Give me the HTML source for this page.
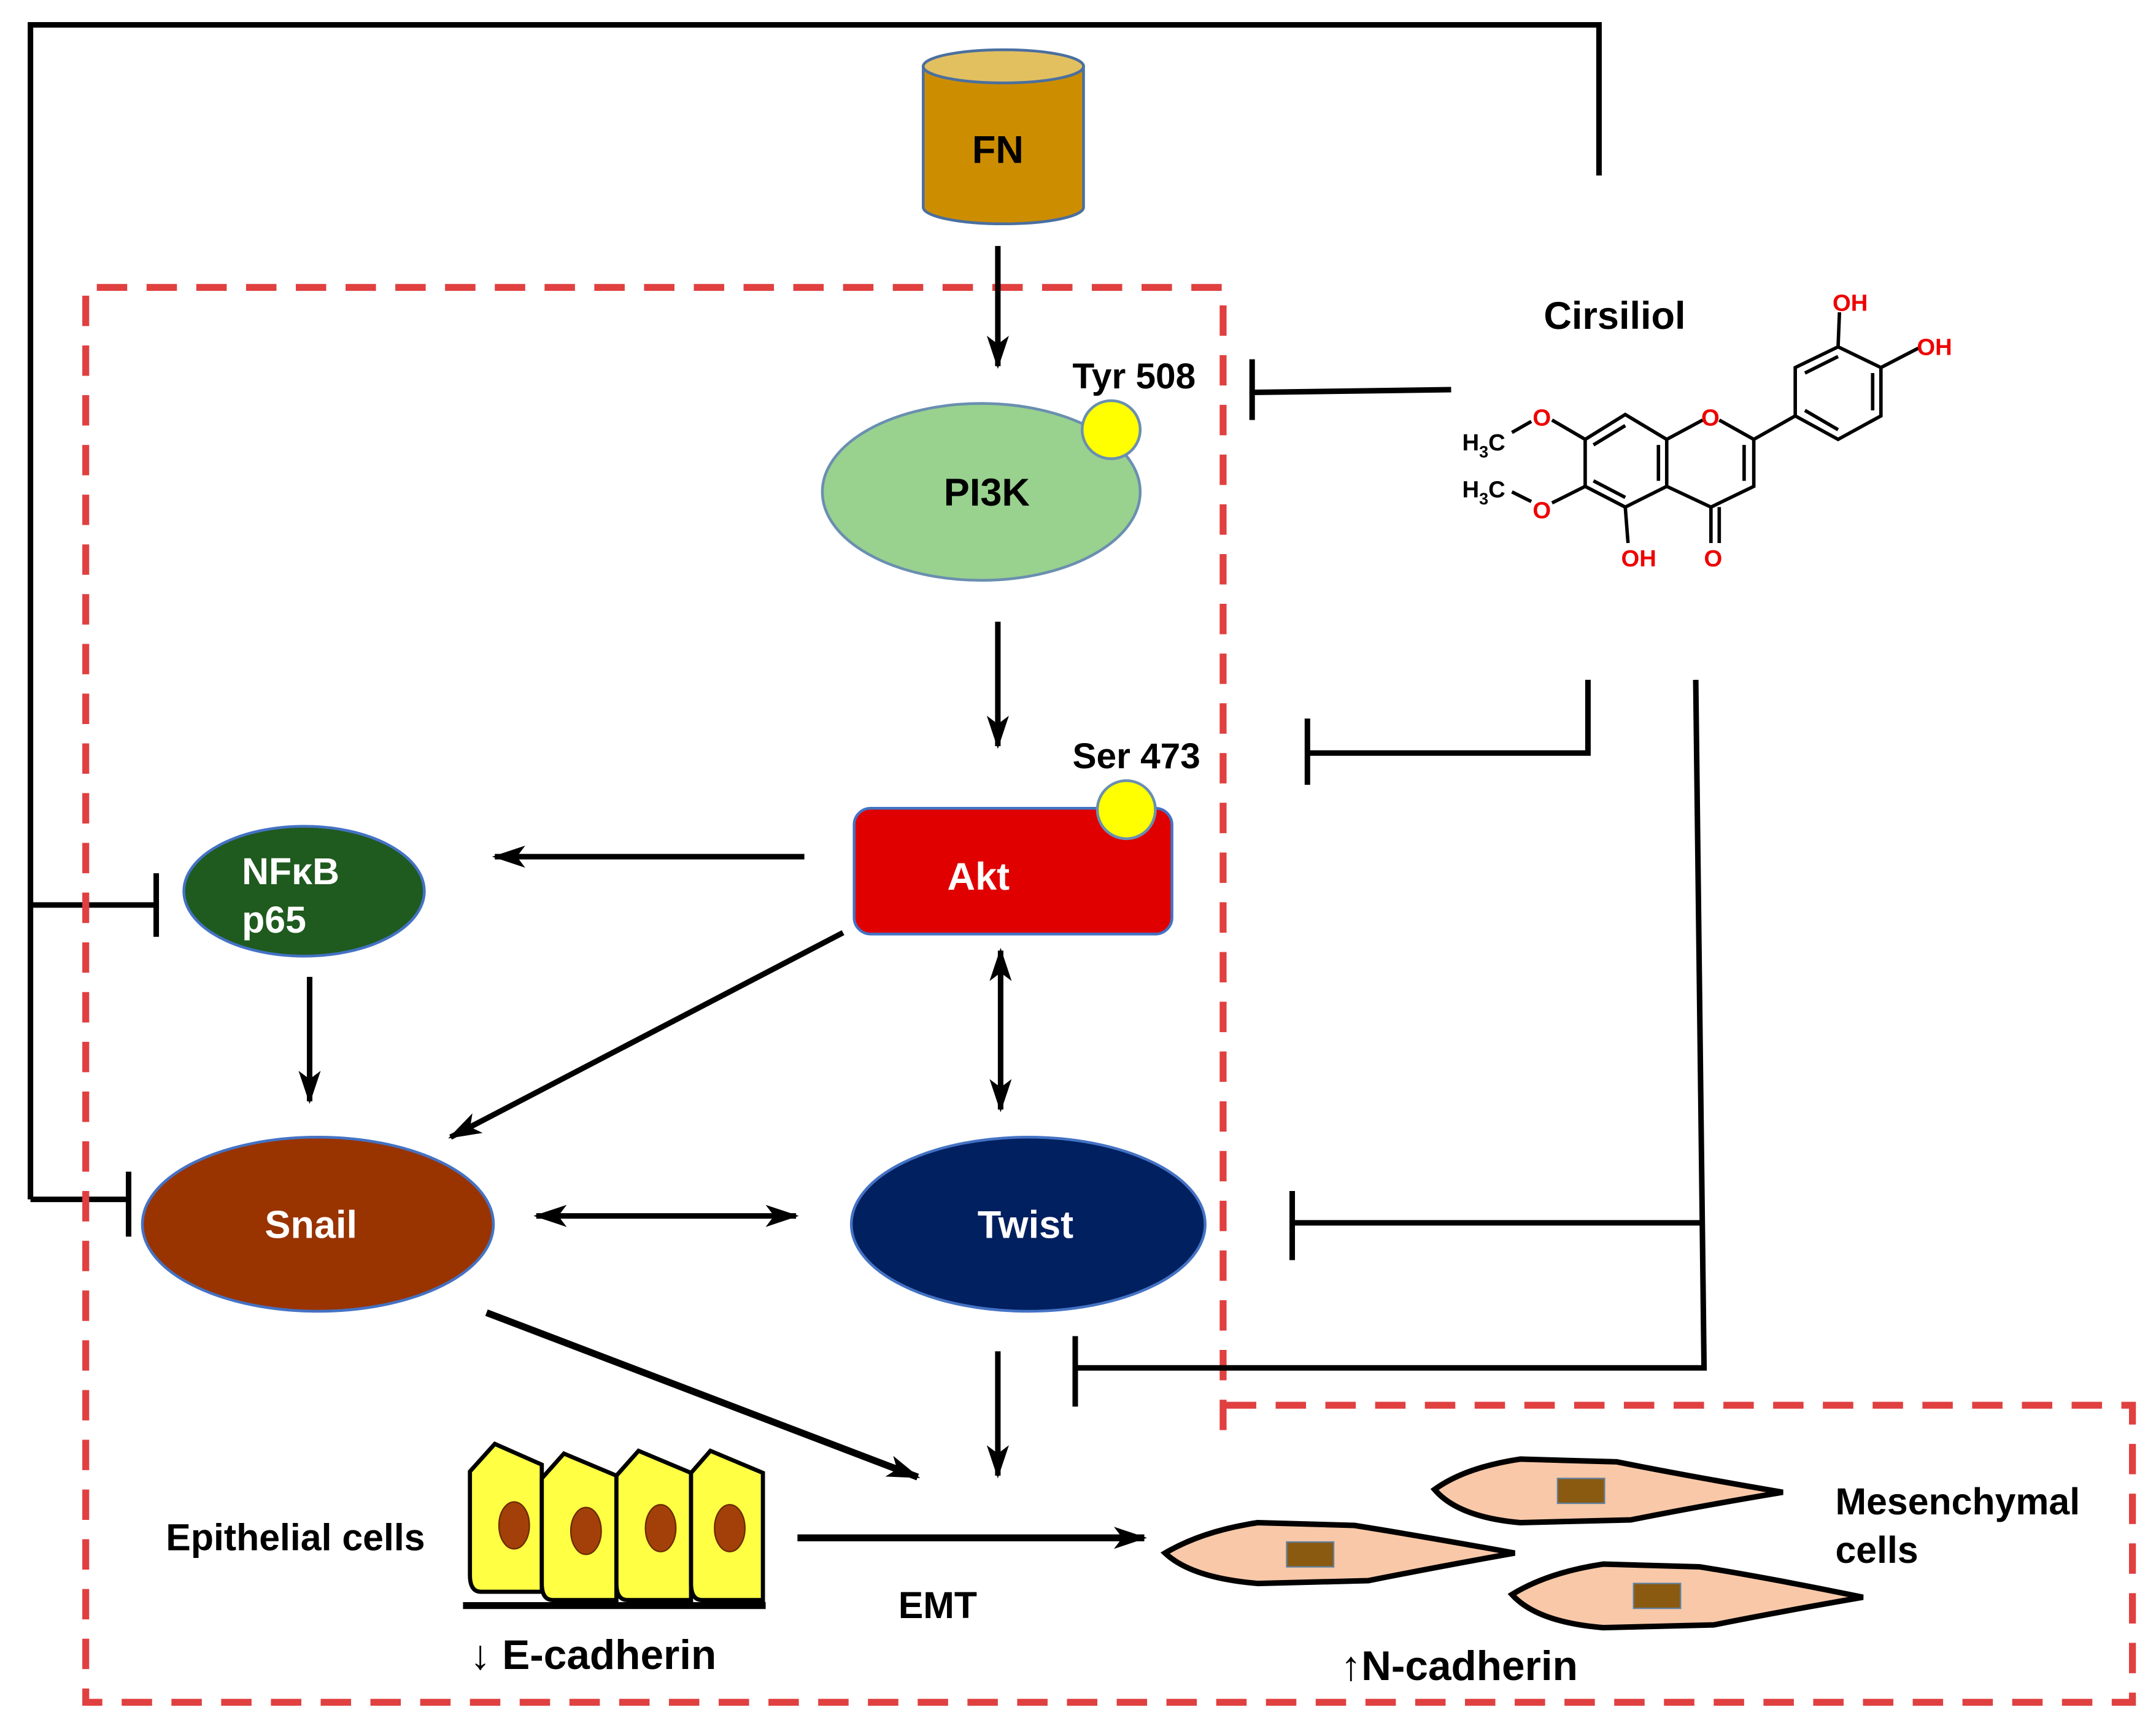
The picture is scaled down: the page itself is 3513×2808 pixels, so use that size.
<!DOCTYPE html>
<html><head><meta charset="utf-8"><style>
html,body{margin:0;padding:0;background:#fff;}
svg{display:block;}
text{font-family:"Liberation Sans",Arial,sans-serif;font-weight:bold;}
</style></head><body>
<svg width="3513" height="2808" viewBox="0 0 1560 1247" xmlns="http://www.w3.org/2000/svg">
<defs>
<marker id="ah" markerWidth="8" markerHeight="8" refX="7" refY="4" orient="auto" markerUnits="userSpaceOnUse" viewBox="0 0 8 8">
<path d="M0,0 L8,4 L0,8 Z" fill="#000"/></marker>
<marker id="ahs" markerWidth="8" markerHeight="8" refX="1" refY="4" orient="auto" markerUnits="userSpaceOnUse" viewBox="0 0 8 8">
<path d="M8,0 L0,4 L8,8 Z" fill="#000"/></marker>
<marker id="big" markerWidth="24" markerHeight="16" refX="22" refY="8" orient="auto" markerUnits="userSpaceOnUse" viewBox="0 0 24 16">
<path d="M0,0 L24,8 L0,16 L6,8 Z" fill="#000"/></marker>
<marker id="bigs" markerWidth="24" markerHeight="16" refX="2" refY="8" orient="auto" markerUnits="userSpaceOnUse" viewBox="0 0 24 16">
<path d="M24,0 L0,8 L24,16 L18,8 Z" fill="#000"/></marker>
</defs>

<!-- outer feedback line -->
<polyline points="22,868 22,18 1157,18 1157,127" fill="none" stroke="#000" stroke-width="4"/>
<line x1="22" y1="655" x2="113" y2="655" stroke="#000" stroke-width="4"/>
<line x1="113" y1="632" x2="113" y2="678" stroke="#000" stroke-width="4"/>
<line x1="22" y1="868" x2="93" y2="868" stroke="#000" stroke-width="4"/>
<line x1="93" y1="848" x2="93" y2="895" stroke="#000" stroke-width="4"/>

<!-- dashed boxes -->
<g stroke="#e04040" stroke-width="5" fill="none" stroke-dasharray="22,14">
<polyline points="885,1035 885,208 62,208 62,1232 1543,1232 1543,1017 885,1017"/>
</g>

<!-- FN cylinder -->
<path d="M668,48 L668,150 A58,12 0 0 0 784,150 L784,48 Z" fill="#cc8e00" stroke="#4a6fa0" stroke-width="2"/>
<ellipse cx="726" cy="48" rx="58" ry="12" fill="#e2c060" stroke="#4a6fa0" stroke-width="2"/>
<text x="722" y="118" font-size="28" text-anchor="middle">FN</text>

<line x1="722" y1="178" x2="722" y2="265" stroke="#000" stroke-width="4" marker-end="url(#big)"/>

<!-- PI3K -->
<ellipse cx="710" cy="356" rx="115" ry="64" fill="#99d18f" stroke="#6a8fb0" stroke-width="2"/>
<circle cx="804" cy="311" r="21" fill="#ffff00" stroke="#6a8fb0" stroke-width="2"/>
<text x="714" y="366" font-size="28" text-anchor="middle">PI3K</text>
<text x="776" y="281" font-size="26">Tyr 508</text>
<line x1="1050" y1="282" x2="906" y2="284" stroke="#000" stroke-width="4"/>
<line x1="906" y1="260" x2="906" y2="304" stroke="#000" stroke-width="4"/>

<line x1="722" y1="450" x2="722" y2="540" stroke="#000" stroke-width="4" marker-end="url(#big)"/>

<!-- Akt -->
<text x="776" y="556" font-size="26">Ser 473</text>
<rect x="618" y="585" width="230" height="91" rx="12" fill="#e00000" stroke="#4472c4" stroke-width="2"/>
<circle cx="815" cy="586" r="21" fill="#ffff00" stroke="#6a8fb0" stroke-width="2"/>
<text x="708" y="644" font-size="28" fill="#fff" text-anchor="middle">Akt</text>
<polyline points="1149,492 1149,545 946,545" fill="none" stroke="#000" stroke-width="4"/>
<line x1="946" y1="520" x2="946" y2="568" stroke="#000" stroke-width="4"/>

<polyline points="1227,492 1233,990 778,990" fill="none" stroke="#000" stroke-width="4"/>
<line x1="1230" y1="885" x2="935" y2="885" stroke="#000" stroke-width="4"/>
<line x1="935" y1="862" x2="935" y2="912" stroke="#000" stroke-width="4"/>
<line x1="778" y1="967" x2="778" y2="1018" stroke="#000" stroke-width="4"/>

<!-- NFkB -->
<ellipse cx="220" cy="645" rx="87" ry="47" fill="#1f5a1f" stroke="#4472c4" stroke-width="2"/>
<text x="175" y="640" font-size="27" fill="#fff">NFκB</text>
<text x="175" y="675" font-size="27" fill="#fff">p65</text>
<line x1="582" y1="620" x2="358" y2="620" stroke="#000" stroke-width="4" marker-end="url(#big)"/>
<line x1="224" y1="707" x2="224" y2="797" stroke="#000" stroke-width="4" marker-end="url(#big)"/>
<line x1="610" y1="675" x2="326" y2="823" stroke="#000" stroke-width="4" marker-end="url(#big)"/>
<line x1="724" y1="688" x2="724" y2="803" stroke="#000" stroke-width="4" marker-start="url(#bigs)" marker-end="url(#big)"/>

<!-- Snail / Twist -->
<ellipse cx="230" cy="886" rx="127" ry="63" fill="#993300" stroke="#4472c4" stroke-width="2"/>
<text x="225" y="896" font-size="28" fill="#fff" text-anchor="middle">Snail</text>
<ellipse cx="744" cy="886" rx="128" ry="63" fill="#002060" stroke="#4472c4" stroke-width="2"/>
<text x="742" y="896" font-size="28" fill="#fff" text-anchor="middle">Twist</text>
<line x1="388" y1="880" x2="576" y2="880" stroke="#000" stroke-width="4" marker-start="url(#bigs)" marker-end="url(#big)"/>
<line x1="352" y1="950" x2="664" y2="1069" stroke="#000" stroke-width="5" marker-end="url(#big)"/>
<line x1="722" y1="978" x2="722" y2="1068" stroke="#000" stroke-width="4" marker-end="url(#big)"/>

<!-- Epithelial -->
<text x="120" y="1122" font-size="27">Epithelial  cells</text>
<g stroke="#000" stroke-width="3" fill="#ffff44">
<path d="M340,1065 L358,1045 L392,1060 L392,1152 L348,1152 Q340,1152 340,1140 Z"/>
<path d="M392,1070 L408,1052 L446,1068 L446,1158 L400,1158 Q392,1158 392,1146 Z"/>
<path d="M446,1068 L462,1050 L500,1066 L500,1158 L454,1158 Q446,1158 446,1146 Z"/>
<path d="M500,1066 L514,1050 L552,1066 L552,1158 L508,1158 Q500,1158 500,1146 Z"/>
</g>
<g fill="#a3400a" stroke="#6a2a00" stroke-width="1">
<ellipse cx="372" cy="1104" rx="11" ry="17"/>
<ellipse cx="424" cy="1108" rx="11" ry="17"/>
<ellipse cx="478" cy="1106" rx="11" ry="17"/>
<ellipse cx="528" cy="1106" rx="11" ry="17"/>
</g>
<line x1="335" y1="1162" x2="554" y2="1162" stroke="#000" stroke-width="5"/>
<text x="340" y="1208" font-size="30">↓ E-cadherin</text>

<line x1="577" y1="1113" x2="828" y2="1113" stroke="#000" stroke-width="5" marker-end="url(#big)"/>
<text x="650" y="1171" font-size="27">EMT</text>

<!-- Mesenchymal cells -->
<g stroke="#000" stroke-width="4" fill="#f8c8a8">
<path d="M1038,1078 Q1060,1062 1100,1056 L1170,1058 Q1220,1068 1290,1080 Q1230,1090 1180,1100 L1100,1102 Q1055,1098 1038,1078 Z"/>
<path d="M843,1124 Q870,1108 910,1102 L980,1104 Q1030,1112 1096,1124 Q1040,1134 990,1144 L910,1146 Q862,1142 843,1124 Z"/>
<path d="M1094,1154 Q1120,1138 1160,1132 L1230,1134 Q1280,1142 1348,1156 Q1290,1166 1240,1176 L1160,1178 Q1112,1174 1094,1154 Z"/>
</g>
<g fill="#8a5a10" stroke="#6080a0" stroke-width="1">
<rect x="1127" y="1070" width="34" height="18"/>
<rect x="931" y="1116" width="34" height="18"/>
<rect x="1182" y="1146" width="34" height="18"/>
</g>
<text x="1328" y="1096" font-size="27">Mesenchymal</text>
<text x="1328" y="1131" font-size="27">cells</text>
<text x="970" y="1216" font-size="30">↑N-cadherin</text>

<!-- Cirsiliol -->
<text x="1117" y="238" font-size="28">Cirsiliol</text>
<g stroke="#000" stroke-width="2.5" fill="none">
<polyline points="1147,318 1176,300 1206,318 1206,352 1176,367 1147,352 1147,318"/>
<line x1="1206" y1="318" x2="1232" y2="304"/>
<polyline points="1244,304 1269,318 1269,352 1238,367 1206,352"/>
<line x1="1238" y1="367" x2="1238" y2="393"/>
<line x1="1244" y1="367" x2="1244" y2="393"/>
<line x1="1176" y1="367" x2="1178" y2="393"/>
<line x1="1269" y1="318" x2="1299" y2="301"/>
<polyline points="1299,301 1299,266 1330,251 1361,266 1361,301 1330,318 1299,301"/>
<line x1="1330" y1="251" x2="1331" y2="226"/>
<line x1="1361" y1="266" x2="1388" y2="252"/>
<line x1="1147" y1="318" x2="1123" y2="304"/>
<line x1="1147" y1="352" x2="1123" y2="364"/>
<line x1="1108" y1="305" x2="1094" y2="313"/>
<line x1="1108" y1="363" x2="1094" y2="356"/>
<line x1="1153" y1="322" x2="1176" y2="308"/>
<line x1="1153" y1="348" x2="1176" y2="360"/>
<line x1="1200" y1="322" x2="1200" y2="348"/>
<line x1="1262" y1="322" x2="1262" y2="348"/>
<line x1="1306" y1="270" x2="1330" y2="258"/>
<line x1="1355" y1="270" x2="1355" y2="297"/>
<line x1="1306" y1="297" x2="1330" y2="311"/>
</g>
<g font-size="17" fill="#ee0000" font-weight="normal">
<text x="1231" y="308">O</text>
<text x="1109" y="308">O</text>
<text x="1109" y="375">O</text>
<text x="1233" y="410">O</text>
<text x="1173" y="410">OH</text>
<text x="1326" y="225">OH</text>
<text x="1387" y="257">OH</text>
</g>
<g font-size="17" fill="#000" font-weight="normal">
<text x="1058" y="326">H<tspan font-size="12" dy="5">3</tspan><tspan dy="-5">C</tspan></text>
<text x="1058" y="360">H<tspan font-size="12" dy="5">3</tspan><tspan dy="-5">C</tspan></text>
</g>
</svg>
</body></html>
